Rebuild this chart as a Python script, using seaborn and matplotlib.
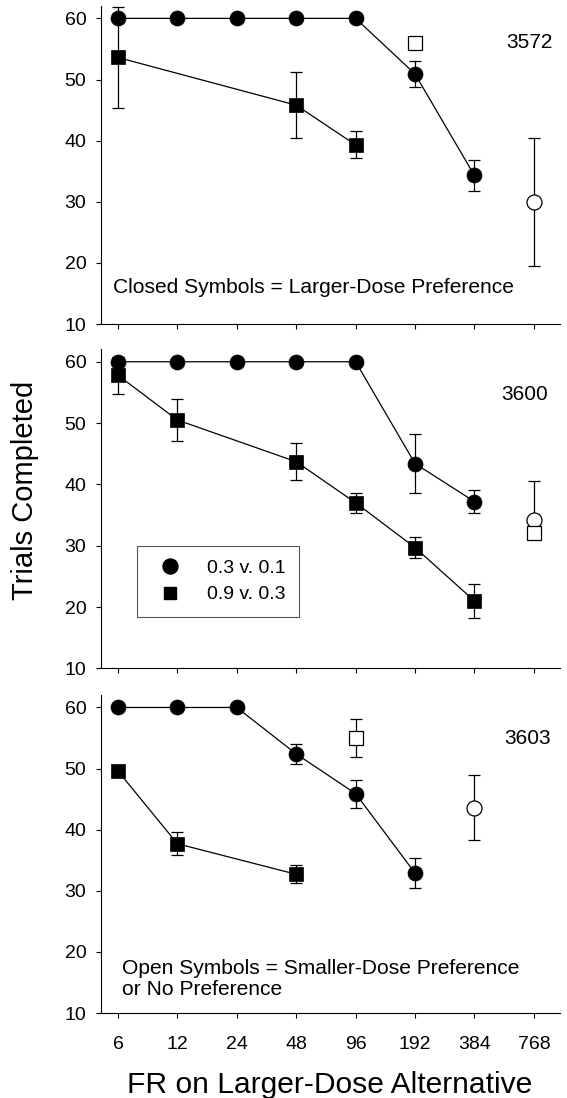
import numpy as np
import matplotlib.pyplot as plt
import seaborn as sns
from matplotlib.lines import Line2D

sns.set_theme(style="ticks")
plt.rcParams["font.family"] = ["Liberation Sans", "DejaVu Sans"]
plt.rcParams["text.color"] = "black"

fr_values = ["6", "12", "24", "48", "96", "192", "384", "768"]
legend_labels = ["0.3 v. 0.1", "0.9 v. 0.3"]

# subject 3572
r3572_circle = [60, 60, 60, 60, 60, 50.9, 34.3, np.nan]
r3572_circle_sem = [0, 0, 0, 0, 0, 2.2, 2.5, 0]
r3572_square = [53.6, np.nan, np.nan, 45.8, 39.3, np.nan, np.nan, np.nan]
r3572_square_sem = [8.3, 0, 0, 5.4, 2.2, 0, 0, 0]
r3572_open_circle_fr = ["768"]
r3572_open_circle = [30.0]
r3572_open_circle_lo = [10.5]
r3572_open_circle_hi = [10.5]
r3572_open_square_fr = ["192"]
r3572_open_square = [56.0]
r3572_open_square_lo = [0]
r3572_open_square_hi = [0]

# subject 3600
r3600_circle = [60, 60, 60, 60, 60, 43.4, 37.2, np.nan]
r3600_circle_sem = [0, 0, 0, 0, 0, 4.8, 1.9, 0]
r3600_square = [57.8, 50.5, np.nan, 43.7, 37.0, 29.7, 21.0, np.nan]
r3600_square_sem = [3.0, 3.4, 0, 3.0, 1.6, 1.7, 2.8, 0]
r3600_open_circle_fr = ["768"]
r3600_open_circle = [34.2]
r3600_open_circle_lo = [0]
r3600_open_circle_hi = [6.3]
r3600_open_square_fr = ["768"]
r3600_open_square = [32.1]
r3600_open_square_lo = [0]
r3600_open_square_hi = [0]

# subject 3603
r3603_circle = [60, 60, 60, 52.4, 45.9, 32.9, np.nan, np.nan]
r3603_circle_sem = [0, 0, 0, 1.6, 2.3, 2.4, 0, 0]
r3603_square = [49.6, 37.7, np.nan, 32.7, np.nan, np.nan, np.nan, np.nan]
r3603_square_sem = [0.6, 1.85, 0, 1.5, 0, 0, 0, 0]
r3603_open_circle_fr = ["384"]
r3603_open_circle = [43.6]
r3603_open_circle_lo = [5.3]
r3603_open_circle_hi = [5.3]
r3603_open_square_fr = ["96"]
r3603_open_square = [55.0]
r3603_open_square_lo = [3.1]
r3603_open_square_hi = [3.1]

positions = {fr: i for i, fr in enumerate(fr_values)}

CIRCLE_SIZE = 10.8
SQUARE_SIZE = 9.8
LINE_W = 0.9
CAP = 4.2


def draw_closed(ax, values, sem, marker, size):
    x = np.arange(len(fr_values), dtype=float)
    y = np.array(values, dtype=float)
    e = np.array(sem, dtype=float)
    keep = ~np.isnan(y)
    bars = keep & (e > 0)
    if bars.any():
        ax.errorbar(x[bars], y[bars], yerr=e[bars], fmt="none", ecolor="black",
                    elinewidth=LINE_W, capsize=CAP, capthick=LINE_W, zorder=2)
    sns.lineplot(x=x[keep], y=y[keep], color="black", linewidth=LINE_W,
                 marker=marker, markersize=size, markeredgecolor="black",
                 markeredgewidth=0.5, ax=ax, zorder=3)


def draw_open(ax, frs, values, lo, hi, marker, size, z):
    x = [positions[f] for f in frs]
    err = np.array([lo, hi], dtype=float)
    if err.max() > 0:
        ax.errorbar(x, values, yerr=err, fmt="none", ecolor="black",
                    elinewidth=LINE_W, capsize=CAP, capthick=LINE_W, zorder=2)
    ax.plot(x, values, linestyle="none", marker=marker, markersize=size,
            markerfacecolor="white", markeredgecolor="black",
            markeredgewidth=LINE_W, zorder=z)


def style_axis(ax, show_labels):
    ax.set_xlim(-0.286, 7.44)
    ax.set_ylim(10, 62)
    ax.set_yticks([10, 20, 30, 40, 50, 60])
    ax.set_xticks(range(len(fr_values)))
    ax.set_xticklabels(fr_values if show_labels else [])
    ax.set_xlabel("")
    ax.set_ylabel("")
    sns.despine(ax=ax)
    for side in ("left", "bottom"):
        ax.spines[side].set_color("black")
        ax.spines[side].set_linewidth(0.8)
    ax.tick_params(axis="both", direction="out", length=3.6, width=0.8,
                   color="black", labelsize=14, labelcolor="black")
    ax.tick_params(axis="x", pad=13)
    ax.tick_params(axis="y", pad=7)


fig = plt.figure(figsize=(5.67, 10.98), dpi=100)
left, width = 0.1781, 0.8095
ax1 = fig.add_axes([left, 0.7049, width, 0.2895])
ax2 = fig.add_axes([left, 0.3913, width, 0.2904])
ax3 = fig.add_axes([left, 0.0774, width, 0.2894])

panels = [
    (ax1, r3572_circle, r3572_circle_sem, r3572_square, r3572_square_sem,
     r3572_open_circle_fr, r3572_open_circle, r3572_open_circle_lo, r3572_open_circle_hi,
     r3572_open_square_fr, r3572_open_square, r3572_open_square_lo, r3572_open_square_hi),
    (ax2, r3600_circle, r3600_circle_sem, r3600_square, r3600_square_sem,
     r3600_open_circle_fr, r3600_open_circle, r3600_open_circle_lo, r3600_open_circle_hi,
     r3600_open_square_fr, r3600_open_square, r3600_open_square_lo, r3600_open_square_hi),
    (ax3, r3603_circle, r3603_circle_sem, r3603_square, r3603_square_sem,
     r3603_open_circle_fr, r3603_open_circle, r3603_open_circle_lo, r3603_open_circle_hi,
     r3603_open_square_fr, r3603_open_square, r3603_open_square_lo, r3603_open_square_hi),
]

for ax, c, c_sem, s, s_sem, oc_fr, oc, oc_lo, oc_hi, os_fr, os_, os_lo, os_hi in panels:
    draw_closed(ax, s, s_sem, "s", SQUARE_SIZE)
    draw_closed(ax, c, c_sem, "o", CIRCLE_SIZE)
    draw_open(ax, oc_fr, oc, oc_lo, oc_hi, "o", CIRCLE_SIZE, 4)
    draw_open(ax, os_fr, os_, os_lo, os_hi, "s", SQUARE_SIZE, 5)
    style_axis(ax, ax is ax3)

ax1.text(7.31, 56.0, "3572", ha="right", va="center", fontsize=15)
ax2.text(7.24, 54.6, "3600", ha="right", va="center", fontsize=15)
ax3.text(7.28, 54.9, "3603", ha="right", va="center", fontsize=15)

ax1.text(-0.08, 15.9, "Closed Symbols = Larger-Dose Preference",
         ha="left", va="center", fontsize=15.1)
ax3.text(0.07, 15.6, "Open Symbols = Smaller-Dose Preference\nor No Preference",
         ha="left", va="center", fontsize=15.1, linespacing=1.15)

handles = [
    Line2D([], [], linestyle="none", marker="o", markersize=CIRCLE_SIZE,
           color="black"),
    Line2D([], [], linestyle="none", marker="s", markersize=SQUARE_SIZE * 0.85,
           color="black"),
]
leg = ax2.legend(handles, legend_labels, loc="lower left",
                 bbox_to_anchor=(0.0784, 0.161), borderaxespad=0,
                 fontsize=14, frameon=True, fancybox=False, shadow=False,
                 borderpad=0.7, labelspacing=0.45, handlelength=2.0,
                 handletextpad=0.9)
leg.get_frame().set_edgecolor("#555555")
leg.get_frame().set_linewidth(0.8)
leg.get_frame().set_alpha(1)

fig.text(0.044, 0.553, "Trials Completed", rotation=90, ha="center",
         va="center", fontsize=21)
fig.text(0.582, 0.0046, "FR on Larger-Dose Alternative", ha="center",
         va="baseline", fontsize=21.6)

fig.savefig("out.png", dpi=100)
plt.close(fig)
